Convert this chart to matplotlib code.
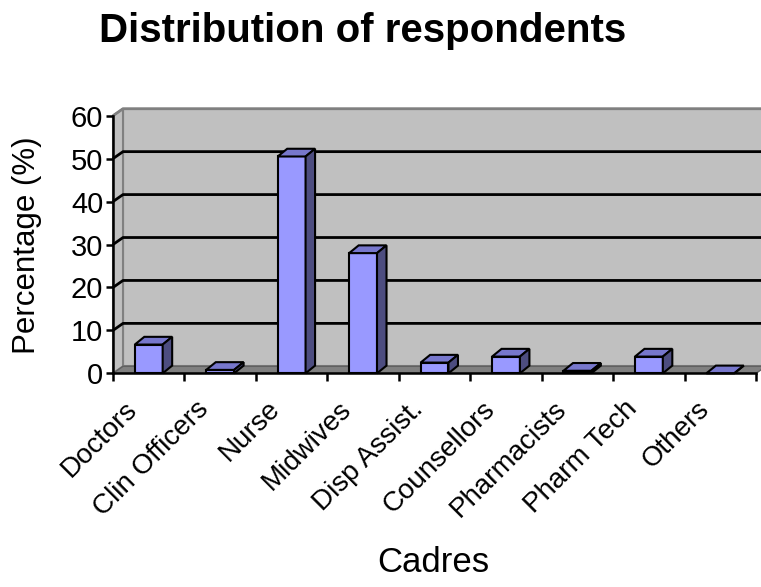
import matplotlib
matplotlib.use('Agg')
import matplotlib.pyplot as plt
import matplotlib.transforms as mtransforms
from matplotlib.patches import Polygon

plt.rcParams['font.family'] = ['Liberation Sans', 'DejaVu Sans']

cadres = ['Doctors', 'Clin Officers', 'Nurse', 'Midwives', 'Disp Assist.',
          'Counsellors', 'Pharmacists', 'Pharm Tech', 'Others']
percent = [6.7, 0.8, 50.5, 28.0, 2.5, 3.9, 0.6, 3.9, 0.0]
yticks = [0, 10, 20, 30, 40, 50, 60]

fig = plt.figure(figsize=(7.61, 5.87), dpi=100)
ax = fig.add_axes([0.1485, 0.364, 0.845, 0.4389])
n = len(cadres)
ax.set_xlim(-0.5, n - 0.5)
ax.set_ylim(0, 60)
ax.patch.set_visible(False)

# depth offsets for the pseudo-3D box (data units)
dxw, dyw = 0.14, 1.63
dxb, dyb = 0.133, 1.8
wall = '#c0c0c0'
edge = '#808080'

# back wall, side wall and floor
right = n - 0.5 + 1.0
ax.add_patch(Polygon([(-0.5 + dxw, dyw), (right, dyw), (right, 60 + dyw), (-0.5 + dxw, 60 + dyw)],
                     closed=True, fc=wall, ec=edge, lw=1.5, clip_on=False, zorder=0.5))
ax.add_patch(Polygon([(-0.5, 0), (-0.5 + dxw, dyw), (-0.5 + dxw, 60 + dyw), (-0.5, 60)],
                     closed=True, fc=wall, ec=edge, lw=1.5, clip_on=False, zorder=0.5))
ax.add_patch(Polygon([(-0.5, 0), (n - 0.5, 0), (n - 0.5 + dxw, dyw), (-0.5 + dxw, dyw)],
                     closed=True, fc='#808080', ec='#606060', lw=1.0, clip_on=False, zorder=0.6))

# gridlines across side wall and back wall
for v in yticks[1:]:
    col = edge if v == 60 else 'black'
    ax.plot([-0.5, -0.5 + dxw, right], [v, v + dyw, v + dyw], color=col, lw=2.0,
            clip_on=False, zorder=0.8, solid_capstyle='butt')

# 3D bars
w = 0.39
for i, h in enumerate(percent):
    l, r = i - w / 2, i + w / 2
    ax.add_patch(Polygon([(l, 0), (r, 0), (r, h), (l, h)], closed=True,
                         fc='#9999ff', ec='black', lw=1.5, zorder=2, clip_on=False))
    ax.add_patch(Polygon([(l, h), (r, h), (r + dxb, h + dyb), (l + dxb, h + dyb)], closed=True,
                         fc='#7777cc', ec='black', lw=1.5, zorder=2, clip_on=False))
    ax.add_patch(Polygon([(r, 0), (r + dxb, dyb), (r + dxb, h + dyb), (r, h)], closed=True,
                         fc='#4d4d80', ec='black', lw=1.5, zorder=2, clip_on=False))

for s in ['top', 'right']:
    ax.spines[s].set_visible(False)
for s in ['left', 'bottom']:
    ax.spines[s].set_linewidth(1.8)
    ax.spines[s].set_zorder(3)

ax.set_yticks(yticks)
ax.tick_params(axis='y', length=5, width=1.8, labelsize=21, pad=2)
ax.set_xticks([i - 0.5 for i in range(n + 1)])
ax.set_xticklabels([])
ax.set_xticks(range(n), minor=True)
ax.set_xticklabels(cadres, minor=True, rotation=45, ha='right', va='center',
                   rotation_mode='anchor', fontsize=20)
ax.tick_params(axis='x', which='major', length=6, width=1.8)
ax.tick_params(axis='x', which='minor', length=0, pad=23)
shift = mtransforms.ScaledTranslation(-11 / 72, 0, fig.dpi_scale_trans)
for lab in ax.get_xticklabels(minor=True):
    lab.set_transform(lab.get_transform() + shift)

fig.text(0.0355, 0.583, 'Percentage (%)', fontsize=22.5, rotation=90,
         ha='center', va='center')
fig.text(0.569, 0.041, 'Cadres', fontsize=25, ha='center', va='center')
fig.text(0.476, 0.947, 'Distribution of respondents', fontsize=29, fontweight='bold',
         ha='center', va='center')

fig.savefig('out.png', dpi=100)
